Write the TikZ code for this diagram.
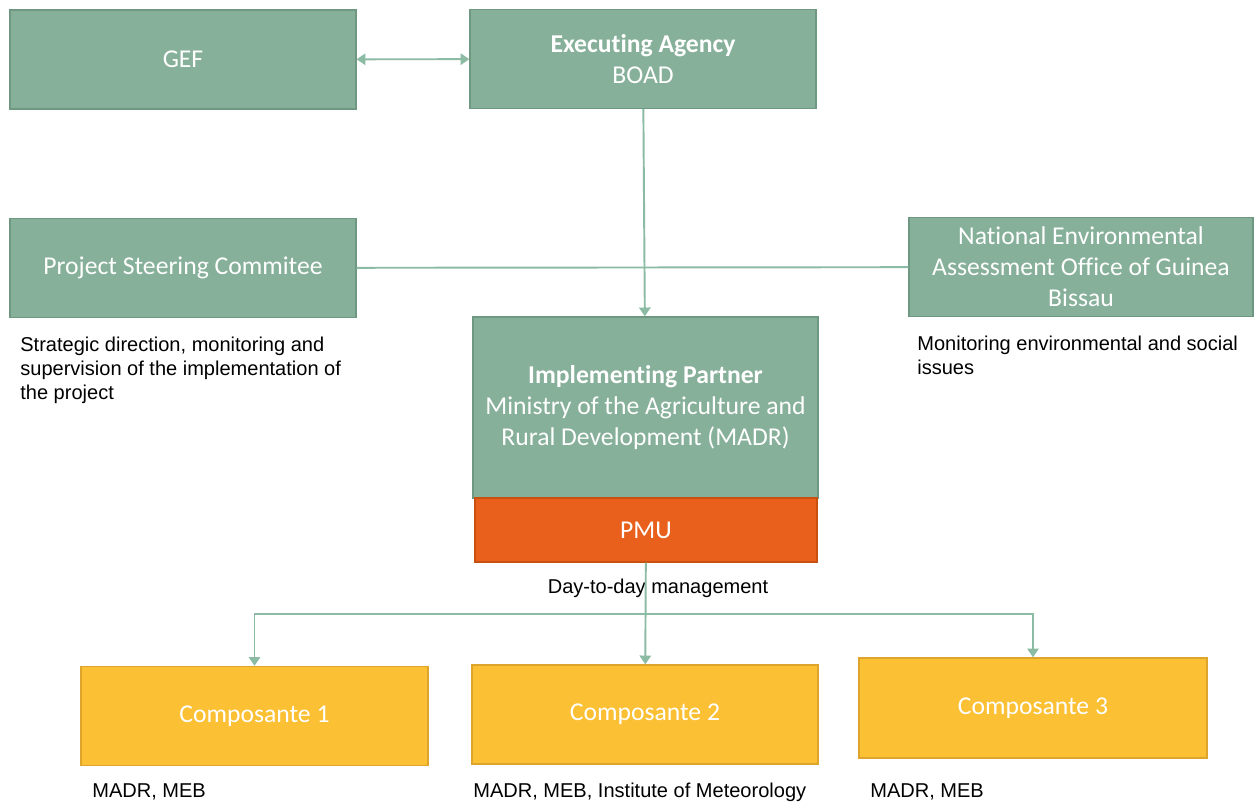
\documentclass[tikz,border=0pt]{standalone}
\usepackage{fontspec}
\setmainfont[RawFeature={-liga;-clig;-calt;-dlig}]{Carlito}
\newfontfamily\notefont{Liberation Sans}
\usetikzlibrary{arrows.meta}
\definecolor{boxgreen}{HTML}{87B09A}
\definecolor{edgegreen}{HTML}{6F9882}
\definecolor{linkgreen}{HTML}{8CBBA4}
\definecolor{pmuorange}{HTML}{E8601C}
\definecolor{pmuedge}{HTML}{C9500F}
\definecolor{compyellow}{HTML}{FBC033}
\definecolor{compedge}{HTML}{DDA52C}
\tikzset{
  greenbox/.style={draw=edgegreen, fill=boxgreen, text=white, line width=0.8pt,
    minimum width=6.92cm, minimum height=1.98cm, inner sep=0pt, align=center,
    font=\fontsize{14.6}{17.6}\selectfont},
  pmubox/.style={greenbox, draw=pmuedge, fill=pmuorange, minimum width=6.84cm, minimum height=1.28cm},
  compbox/.style={greenbox, draw=compedge, fill=compyellow, minimum width=6.94cm},
  note/.style={inner sep=0pt, align=left, text=black,
    font=\notefont\fontsize{11.4}{13.6}\selectfont},
  link/.style={draw=linkgreen, line width=1.1pt},
  linkto/.style={link, -{Triangle[width=6.5pt,length=5pt]}},
  linkboth/.style={link, {Triangle[width=6.5pt,length=5pt]}-{Triangle[width=6.5pt,length=5pt]}}
}
\begin{document}
\begin{tikzpicture}[x=0.02cm,y=-0.02cm]
  \useasboundingbox (0,0) rectangle (1255,803);
  % boxes
  \node[greenbox] (gef) at (183,59.5) {GEF};
  \node[greenbox] (ea) at (643,59) {\textbf{Executing Agency}\\BOAD};
  \node[greenbox] (psc) at (183,268) {Project Steering Commitee};
  \node[greenbox, minimum width=6.88cm] (nea) at (1081,267)
    {National Environmental\\Assessment Office of Guinea\\Bissau};
  \node[greenbox, minimum width=6.9cm, minimum height=3.62cm] (ip) at (645.5,407.5)
    {\textbf{Implementing Partner}\\Ministry of the Agriculture and\\Rural Development (MADR)};
  \node[pmubox] (pmu) at (646,530) {PMU};
  \node[compbox] (c1) at (254.5,716) {Composante 1};
  \node[compbox, minimum width=6.92cm] (c2) at (645,714.5) {Composante 2};
  \node[compbox, minimum width=6.96cm, minimum height=2cm] (c3) at (1033,708) {Composante 3};
  % notes
  \node[note, anchor=north west] (pscnote) at (20,337)
    {Strategic direction, monitoring and\\supervision of the implementation of\\the project};
  \node[note, anchor=north west] (neanote) at (917,336)
    {Monitoring environmental and social\\issues};
  \node[note] (pmunote) at (658,588) {Day-to-day management};
  \node[note, anchor=west] (c1note) at (92,792) {MADR, MEB};
  \node[note, anchor=west] (c2note) at (473,792) {MADR, MEB, Institute of Meteorology};
  \node[note, anchor=west] (c3note) at (870,792) {MADR, MEB};
  % connectors
  \draw[linkboth] (gef) -- (ea);
  \draw[link] (psc) -- (nea);
  \draw[linkto] (ea) -- (ip);
  \coordinate (branch) at (646,614);
  \draw[linkto] (pmu) -- (c2);
  \draw[linkto] (branch) -| (c1);
  \draw[linkto] (branch) -| (c3);
\end{tikzpicture}
\end{document}
